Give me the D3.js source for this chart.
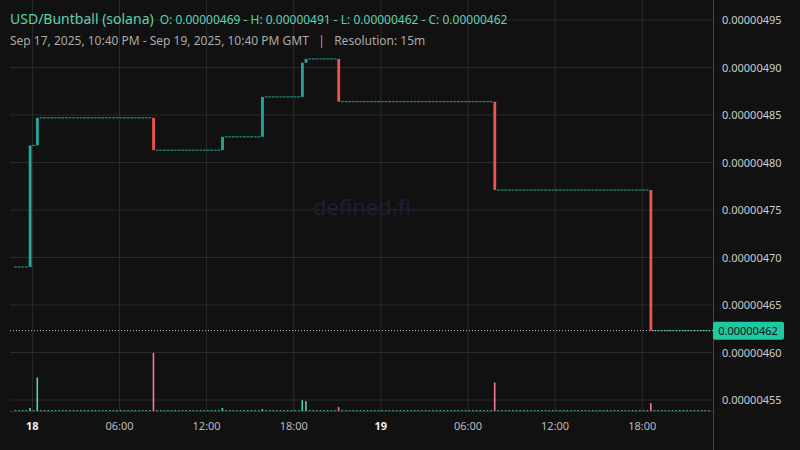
<!DOCTYPE html>
<html><head><meta charset="utf-8">
<script src="https://cdn.jsdelivr.net/npm/d3@7"></script>
<style>body{margin:0;background:#111}text{font-family:"Noto Sans",sans-serif}</style>
</head><body><svg id="c" width="800" height="450"></svg>
<script>
// Data (prices in units of 1e-8 USD, times in hours from Sep 18 2025 00:00 GMT)
const startPrice = 469;
const eventHours  = [-0.25, 0.25, 8.25, 13.0, 15.75, 18.5, 18.75, 21.0, 31.75, 42.5];
const eventOpens  = [469, 481.8, 484.7, 481.3, 482.7, 486.9, 490.5, 490.9, 486.4, 477.1];
const eventCloses = [481.8, 484.7, 481.3, 482.7, 486.9, 490.5, 490.9, 486.4, 477.1, 462.3];
const eventVolumes= [3, 34, 59, 3, 2, 11, 10, 4, 29, 8];
const flatVolume = 0.8;
const priceTicks = [455,460,465,470,475,480,485,490,495];
const timeTickLabels = ["18","06:00","12:00","18:00","19","06:00","12:00","18:00"];

const svg = d3.select("#c");
svg.append("rect").attr("width",800).attr("height",450).attr("fill","#111");
const t0 = Date.UTC(2025,8,18,0,0);
const start = Date.UTC(2025,8,17,22,40), end = Date.UTC(2025,8,19,22,40);
const x = d3.scaleUtc().domain([start,end]).range([13,710]);
const y = d3.scaleLinear().domain([455,495]).range([400,20]);
const vy = d3.scaleLinear().domain([0,60]).range([411,352]);
const H = 3600e3;

const candles = [];
let last = startPrice;
const evMap = new Map(eventHours.map((h,i)=>[Math.round(h*4),i]));
for (let t = Date.UTC(2025,8,17,22,45); t < end; t += H/4) {
  const q = Math.round((t-t0)/H*4);
  if (evMap.has(q)) { const i = evMap.get(q); candles.push({t,o:eventOpens[i],c:eventCloses[i],v:eventVolumes[i]}); last = eventCloses[i]; }
  else candles.push({t,o:last,c:last,v:flatVolume});
}

const tickTimes = timeTickLabels.map((d,i)=>t0 + i*6*H);
svg.append("g").selectAll("line").data(tickTimes).join("line")
  .attr("x1",d=>x(d)).attr("x2",d=>x(d)).attr("y1",0).attr("y2",411).attr("stroke","#2b2b2b");
svg.append("g").selectAll("line").data(priceTicks).join("line")
  .attr("x1",10).attr("x2",713).attr("y1",d=>y(d)).attr("y2",d=>y(d)).attr("stroke","#2b2b2b");
svg.append("line").attr("x1",713.5).attr("x2",713.5).attr("y1",0).attr("y2",450).attr("stroke","#444");
svg.append("line").attr("x1",10).attr("x2",713).attr("y1",411.5).attr("y2",411.5).attr("stroke","#333");

svg.append("text").attr("x",362).attr("y",215).attr("text-anchor","middle").attr("font-size",22)
  .attr("fill","#1e1e36").text("defined.fi");

const G="#26a69a", R="#ef5350";
svg.append("g").selectAll("rect").data(candles).join("rect")
  .attr("x",d=>x(d.t)+0.5).attr("width",1.6).attr("y",d=>vy(d.v)).attr("height",d=>411-vy(d.v))
  .attr("fill",d=>d.c<d.o?"#f07a90":"#5ccfae");
const cg = svg.append("g");
candles.forEach(d=>{
  if (d.o===d.c) cg.append("line").attr("x1",x(d.t)).attr("x2",x(d.t)+2.8).attr("y1",y(d.c)).attr("y2",y(d.c)).attr("stroke",G).attr("stroke-width",1);
  else cg.append("rect").attr("x",x(d.t)).attr("width",2.8).attr("y",y(Math.max(d.o,d.c))).attr("height",Math.abs(y(d.o)-y(d.c)))
    .attr("fill",d.c<d.o?R:G);
});

svg.append("g").selectAll("text").data(priceTicks).join("text")
  .attr("x",722).attr("y",d=>y(d)+4).attr("font-size",11).attr("fill","#ccc")
  .text(d=>(d*1e-8).toFixed(8));
svg.append("g").selectAll("text").data(tickTimes).join("text")
  .attr("x",d=>x(d)).attr("y",430).attr("text-anchor","middle").attr("font-size",11)
  .attr("fill",(d,i)=>i%4===0?"#eee":"#bbb").attr("font-weight",(d,i)=>i%4===0?"bold":"normal")
  .text((d,i)=>timeTickLabels[i]);

const lp = candles[candles.length-1].c;
svg.append("line").attr("x1",10).attr("x2",713).attr("y1",y(lp)).attr("y2",y(lp)).attr("stroke","#bbb").attr("stroke-dasharray","1,2");
svg.append("rect").attr("x",713).attr("y",y(lp)-9).attr("width",71).attr("height",18).attr("rx",2).attr("fill","#1ec8a0");
svg.append("text").attr("x",748).attr("y",y(lp)+4).attr("text-anchor","middle").attr("font-size",11).attr("fill","#111").text((lp*1e-8).toFixed(8));

const h = svg.append("text").attr("x",10).attr("y",24).attr("fill","#5fd0b0");
h.append("tspan").attr("font-size",14).text("USD/Buntball (solana)");
h.append("tspan").attr("dx",6).attr("font-size",12).text("O: 0.00000469 - H: 0.00000491 - L: 0.00000462 - C: 0.00000462");
svg.append("text").attr("x",10).attr("y",45).attr("font-size",12).attr("fill","#aaa").attr("xml:space","preserve")
  .text("Sep 17, 2025, 10:40 PM - Sep 19, 2025, 10:40 PM GMT   |   Resolution: 15m");
</script></body></html>
